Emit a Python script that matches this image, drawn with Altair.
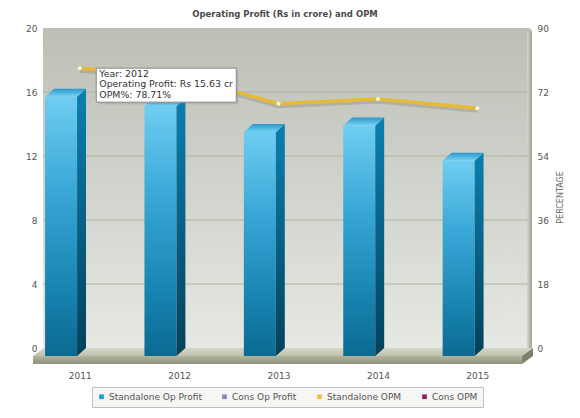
import altair as alt
import pandas as pd

years = ["2011", "2012", "2013", "2014", "2015"]
op_profit = [16.2, 15.63, 14.0, 14.4, 12.2]
opm = [78.71, 76.5, 68.7, 70.0, 67.4]
series = ["Standalone Op Profit", "Cons Op Profit", "Standalone OPM", "Cons OPM"]
series_colors = ["#1b9bd1", "#8585c2", "#efc23d", "#8e1f5f"]
left_ticks = [0, 4, 8, 12, 16, 20]
grid_ticks = [4, 8, 12, 16]
right_ticks = [0, 18, 36, 54, 72, 90]
tip_year = "2011"
tip_lines = ["Year: 2012", "Operating Profit: Rs 15.63 cr", "OPM%: 78.71%"]

FONT = "DejaVu Sans"
W, H = 490, 338
X_DOMAIN = [0.1, 5.03]
Y_LEFT = [-1.125, 20]
Y_RIGHT = [-5.0625, 90]

# fake 3d: front face is pushed left/down from the slot centre
FACE_SHIFT = 0.349
FACE_W = 0.322
DEPTH_X = 0.09
DEPTH_Y = 0.5


def grad(stops, vertical=True):
    return {
        "gradient": "linear",
        "x1": 0, "y1": 0,
        "x2": 0 if vertical else 1, "y2": 1 if vertical else 0,
        "stops": [{"offset": o, "color": c} for o, c in stops],
    }


x_scale = alt.Scale(domain=X_DOMAIN, nice=False, zero=False)
yl_scale = alt.Scale(domain=Y_LEFT, nice=False, zero=False)
yr_scale = alt.Scale(domain=Y_RIGHT, nice=False, zero=False)

label_style = dict(labelFont=FONT, labelFontSize=9, labelColor="#555555")
x_axis = alt.Axis(
    values=[i + 0.5 for i in range(len(years))],
    labelExpr=f"{years}[floor(datum.value)]",
    domain=False, ticks=False, grid=False, title=None, labelPadding=5, **label_style,
)
yl_axis = alt.Axis(values=left_ticks, domain=False, ticks=False, grid=False, title=None,
                   labelPadding=3, **label_style)
yr_axis = alt.Axis(
    orient="right", values=right_ticks, domain=False, ticks=False, grid=False,
    labelPadding=7, title="PERCENTAGE", titleFont=FONT, titleFontSize=8,
    titleFontWeight="normal", titleColor="#666666", titleAngle=270, titlePadding=16,
    **label_style,
)
no_view = alt.ViewBackground(stroke="transparent", strokeWidth=0)


def X(field):
    return alt.X(field, type="quantitative", scale=x_scale, axis=x_axis)


def YL(field):
    return alt.Y(field, type="quantitative", scale=yl_scale, axis=yl_axis)


def YR(field):
    return alt.Y(field, type="quantitative", scale=yr_scale, axis=yr_axis)


one = pd.DataFrame({"k": [0]})

# back wall and frame
wall = alt.Chart(one).mark_rect(
    fill=grad([(0, "#bcbfb6"), (0.55, "#d3d6ce"), (1, "#e6e9e3")]), cornerRadiusTopRight=4
).encode(
    x=alt.value(3), x2=alt.value(492),
    y=alt.Y(datum=20, type="quantitative", scale=yl_scale, axis=yl_axis), y2=alt.Y2(datum=0),
)
side_wall = alt.Chart(one).mark_rect(fill=grad([(0, "#d6d8d0"), (1, "#9c9f93")], vertical=False)).encode(
    x=alt.value(487), x2=alt.value(492),
    y=alt.Y(datum=19.8, type="quantitative", scale=yl_scale, axis=yl_axis), y2=alt.Y2(datum=0),
)
grid = alt.Chart(pd.DataFrame({"v": grid_ticks})).mark_rule(color="#afb39e", strokeWidth=1).encode(
    x=alt.value(3), x2=alt.value(488), y=YL("v")
)

floor_x0, floor_x1, floor_dx = 0.03, 4.95, 0.11
floor_top = pd.DataFrame({
    "x": [floor_x0, floor_x0 + floor_dx, floor_x1, floor_x1 + floor_dx],
    "y": [-DEPTH_Y, 0, 0, 0],
    "y2": [-DEPTH_Y, -DEPTH_Y, -DEPTH_Y, 0],
})
floor_front = pd.DataFrame({"x": [floor_x0], "x2": [floor_x1], "y": [-DEPTH_Y], "y2": [-1.0]})
floor_end = pd.DataFrame({"x": [floor_x1, floor_x1 + floor_dx], "y": [-DEPTH_Y, 0], "y2": [-1.0, -DEPTH_Y]})

floor_a = alt.Chart(floor_top).mark_area(orient="vertical", fill=grad([(0, "#d5d8c8"), (1, "#bec2ac")])).encode(
    x=X("x"), y=YL("y"), y2="y2"
)
floor_b = alt.Chart(floor_front).mark_rect(fill=grad([(0, "#b0b49c"), (1, "#8f937c")])).encode(
    x=X("x"), x2="x2", y=YL("y"), y2="y2"
)
floor_c = alt.Chart(floor_end).mark_area(orient="vertical", color="#7d816c").encode(
    x=X("x"), y=YL("y"), y2="y2"
)

# bars, built as front face + side + top
front_rows, side_rows, top_rows = [], [], []
for i, (yr, v) in enumerate(zip(years, op_profit)):
    left = i + 0.5 - FACE_SHIFT
    right = left + FACE_W
    front_rows.append({"year": yr, "x": left, "x2": right, "y": v - DEPTH_Y, "y2": -DEPTH_Y})
    side_rows += [
        {"year": yr, "x": right, "y": v - DEPTH_Y, "y2": -DEPTH_Y},
        {"year": yr, "x": right + DEPTH_X, "y": v, "y2": 0},
    ]
    top_rows += [
        {"year": yr, "x": left, "y": v - DEPTH_Y, "y2": v - DEPTH_Y},
        {"year": yr, "x": left + DEPTH_X, "y": v, "y2": v - DEPTH_Y},
        {"year": yr, "x": right, "y": v, "y2": v - DEPTH_Y},
        {"year": yr, "x": right + DEPTH_X, "y": v, "y2": v},
    ]

front = alt.Chart(pd.DataFrame(front_rows)).mark_rect(
    fill=grad([(0, "#6fcdf1"), (0.35, "#3aa9d8"), (0.75, "#1783b0"), (1, "#0b6a92")])
).encode(x=X("x"), x2="x2", y=YL("y"), y2="y2")
side = alt.Chart(pd.DataFrame(side_rows)).mark_area(
    orient="vertical", fill=grad([(0, "#0b7fb0"), (1, "#04415a")])
).encode(x=X("x"), y=YL("y"), y2="y2", detail="year:N")
top = alt.Chart(pd.DataFrame(top_rows)).mark_area(
    orient="vertical", fill=grad([(0, "#2a98cc"), (1, "#74d2f3")])
).encode(x=X("x"), y=YL("y"), y2="y2", detail="year:N")

left_group = alt.layer(wall, side_wall, grid, floor_a, floor_b, floor_c, front, side, top).properties(view=no_view)

# OPM line on the right axis
line_df = pd.DataFrame({"year": years, "c": [i + 0.5 for i in range(len(years))], "opm": opm})
shadow = alt.Chart(line_df).mark_line(color="#80837a", strokeWidth=3, opacity=0.35, yOffset=3).encode(
    x=X("c"), y=YR("opm")
)
line = alt.Chart(line_df).mark_line(color="#e8b934", strokeWidth=3.5).encode(x=X("c"), y=YR("opm"))
dots = alt.Chart(line_df).mark_circle(size=16, color="#fffbd2", opacity=1).encode(x=X("c"), y=YR("opm"))

tip_df = line_df[line_df["year"] == tip_year]
tip_shadow = alt.Chart(tip_df).mark_rect(
    fill="#777777", opacity=0.25, xOffset=18.5, x2Offset=158.5, yOffset=2, y2Offset=36
).encode(x=X("c"), x2="c", y=YR("opm"), y2="opm")
tip_box = alt.Chart(tip_df).mark_rect(
    fill="white", stroke="#8a8a8a", strokeWidth=1, xOffset=16.5, x2Offset=156.5, yOffset=0, y2Offset=34
).encode(x=X("c"), x2="c", y=YR("opm"), y2="opm")
tip_text = alt.Chart(tip_df).mark_text(
    align="left", baseline="top", dx=19.5, dy=1.5, font=FONT, fontSize=9.4, lineHeight=10.5, color="#333333"
).encode(x=X("c"), y=YR("opm"), text=alt.value(tip_lines))

legend_df = pd.DataFrame({"series": series})
legend = alt.Chart(legend_df).mark_square(size=0, opacity=0).encode(
    x=alt.value(0), y=alt.value(0),
    color=alt.Color(
        "series:N",
        scale=alt.Scale(domain=series, range=series_colors),
        legend=alt.Legend(
            orient="none", legendX=52, legendY=359, direction="horizontal", columns=4,
            title=None, symbolType="square", symbolSize=22, symbolOpacity=1, symbolStrokeWidth=0,
            labelFont=FONT, labelFontSize=9, labelColor="#555555", labelOffset=3,
            columnPadding=18, padding=5, fillColor="#f6f6f4", strokeColor="#c0c2bb",
        ),
    ),
)

right_group = alt.layer(shadow, line, dots, tip_shadow, tip_box, tip_text, legend).properties(view=no_view)

chart = (
    alt.layer(left_group, right_group)
    .resolve_scale(y="independent")
    .properties(
        width=W, height=H,
        title=alt.Title("Operating Profit (Rs in crore) and OPM", font=FONT, fontSize=8.5,
                        fontWeight="bold", color="#4a4a4a", offset=6, anchor="middle"),
        autosize=alt.AutoSizeParams(type="none"),
        padding={"left": 32, "top": 20, "right": 40, "bottom": 50},
        view=no_view,
    )
    .configure_view(stroke="transparent", strokeWidth=0)
    .configure_axis(domain=False, ticks=False, grid=False)
    .configure(background="white", style={"cell": {"stroke": "transparent", "strokeWidth": 0}})
)

chart.save("out.html", embed_options={"renderer": "svg", "actions": False})
